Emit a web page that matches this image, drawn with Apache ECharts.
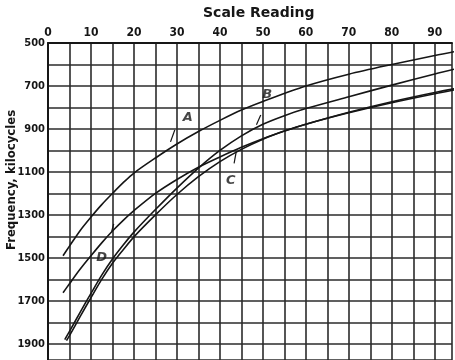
<!DOCTYPE html>
<html>
<head>
<meta charset="utf-8">
<script src="https://cdn.jsdelivr.net/npm/echarts@6/dist/echarts.min.js"></script>
<style>
  html, body { margin: 0; padding: 0; background: #fff; }
  #main { width: 455px; height: 360px; }
</style>
</head>
<body>
<div id="main"></div>
<script>
// scale reading vs frequency (kc)
var curveA = [[3.5, 1490], [5, 1445], [7.5, 1372], [10, 1310], [12.5, 1252], [15, 1200], [17.5, 1150], [20, 1105], [25, 1035], [30, 970], [35, 912], [40, 860], [45, 812], [50, 772], [60, 700], [70, 645], [80, 600], [90, 558], [96, 535]];
var curveB = [[3.9, 1880], [5, 1842], [7.5, 1752], [10, 1665], [12.5, 1580], [15, 1505], [17.5, 1440], [20, 1380], [25, 1275], [30, 1175], [35, 1082], [40, 1000], [45, 932], [50, 878], [55, 838], [60, 805], [70, 750], [80, 696], [90, 644], [96, 615]];
var curveC = [[4.3, 1885], [5, 1862], [7.5, 1772], [10, 1685], [12.5, 1600], [15, 1525], [17.5, 1462], [20, 1402], [25, 1300], [30, 1205], [35, 1122], [40, 1052], [45, 995], [50, 948], [55, 910], [60, 878], [70, 825], [80, 778], [90, 736], [96, 713]];
var curveD = [[3.5, 1662], [5, 1620], [7.5, 1552], [10, 1490], [12.5, 1430], [15, 1375], [17.5, 1325], [20, 1280], [25, 1200], [30, 1135], [35, 1078], [40, 1030], [45, 985], [50, 945], [55, 910], [60, 878], [70, 822], [80, 773], [90, 730], [96, 708]];

var xTicks = [0, 10, 20, 30, 40, 50, 60, 70, 80, 90];
var yTicks = [500, 700, 900, 1100, 1300, 1500, 1700, 1900];

// curve letters and the little tick pointing at each curve
var letters = [['A', 32.5, 845], ['B', 51, 742], ['C', 42.5, 1140], ['D', 12.5, 1500]];
var pointers = [
  [[28.5, 960], [29.5, 905]],
  [[48.5, 880], [49.5, 835]],
  [[43.8, 1005], [43.3, 1060]],
  [[14.8, 1378], [15.3, 1342]]
];

var ink = '#161616';

function curve(name, data) {
  return {
    name: name,
    type: 'line',
    data: data,
    smooth: 0.3,
    showSymbol: false,
    silent: true,
    lineStyle: { color: ink, width: 1.6 }
  };
}

var series = [
  curve('A', curveA),
  curve('B', curveB),
  curve('C', curveC),
  curve('D', curveD),
  {
    type: 'scatter',
    symbolSize: 0,
    silent: true,
    data: letters.map(function (l) { return { value: [l[1], l[2]], name: l[0] }; }),
    label: {
      show: true,
      formatter: '{b}',
      color: ink,
      fontSize: 13,
      fontStyle: 'italic',
      fontWeight: 'bold',
      fontFamily: 'DejaVu Sans'
    }
  }
];
pointers.forEach(function (p) {
  series.push({
    type: 'line',
    data: p,
    showSymbol: false,
    silent: true,
    lineStyle: { color: ink, width: 1.2 }
  });
});

var myChart = echarts.init(document.getElementById('main'));
var option = {
  animation: false,
  backgroundColor: '#fff',
  grid: { left: 48, right: 0, top: 43, bottom: 0 },
  xAxis: {
    type: 'value',
    position: 'top',
    min: 0,
    max: 94,
    interval: 5,
    axisLine: { show: true, lineStyle: { color: ink, width: 2 } },
    axisTick: { show: false },
    splitLine: { show: true, lineStyle: { color: '#2b2b2b', width: 1.6 } },
    axisLabel: {
      margin: 4,
      color: ink,
      fontSize: 12,
      fontWeight: 'bold',
      fontFamily: 'DejaVu Sans Condensed',
      formatter: function (v) { return xTicks.indexOf(v) >= 0 ? String(v) : ''; }
    }
  },
  yAxis: {
    type: 'value',
    inverse: true,
    min: 500,
    max: 1975,
    interval: 100,
    axisLine: { show: true, lineStyle: { color: ink, width: 2 } },
    axisTick: { show: false },
    splitLine: { show: true, lineStyle: { color: '#2b2b2b', width: 1.6 } },
    axisLabel: {
      margin: 3,
      color: ink,
      fontSize: 11,
      fontWeight: 'bold',
      fontFamily: 'DejaVu Sans Condensed',
      formatter: function (v) { return yTicks.indexOf(v) >= 0 ? String(v) : ''; }
    }
  },
  graphic: [
    {
      type: 'text',
      left: 203,
      top: 6,
      style: {
        text: 'Scale Reading',
        fill: ink,
        font: 'bold 14px "DejaVu Sans"'
      }
    },
    {
      type: 'text',
      x: 5,
      y: 250,
      rotation: Math.PI / 2,
      style: {
        text: 'Frequency, kilocycles',
        fill: ink,
        font: 'bold 13px "DejaVu Sans Condensed"'
      }
    }
  ],
  series: series
};
myChart.setOption(option);
</script>
</body>
</html>
